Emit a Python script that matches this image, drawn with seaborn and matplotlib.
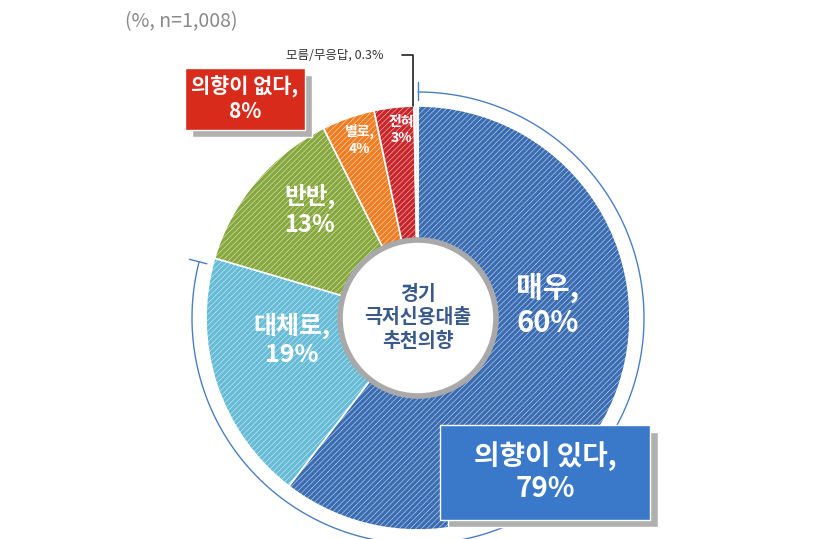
import numpy as np
import matplotlib.pyplot as plt
import seaborn as sns
from matplotlib.patches import Circle, Rectangle

sns.set_style("white")
plt.rcParams["font.family"] = ["Noto Sans CJK JP", "Noto Sans CJK KR", "Noto Sans CJK SC", "DejaVu Sans"]
plt.rcParams["hatch.linewidth"] = 0.3

labels = ["매우", "대체로", "반반", "별로", "전혀", "모름/무응답"]
values = [60, 19, 13, 4, 3, 0.3]
colors = ["#3b6db3", "#66bcd6", "#87a83d", "#ef7e22", "#c9262b", "#f0f0f0"]

W, H = 835, 539
def Y(y):
    return H - y

fig = plt.figure(figsize=(8.35, 5.39), dpi=100)
ax = fig.add_axes([0, 0, 1, 1])

cx, cy, R = 418, 318, 212
wedges, _ = ax.pie(values, colors=colors, startangle=90, counterclock=False,
                   center=(cx, Y(cy)), radius=R, frame=True,
                   wedgeprops=dict(edgecolor="white", linewidth=1.2))
for w in wedges[:5]:
    w.set_hatch("//////")
ax.set_xlim(0, W)
ax.set_ylim(0, H)
ax.set_aspect("equal")
ax.axis("off")

# centre circle
ax.add_patch(Circle((cx, Y(cy)), 78, facecolor="white", edgecolor="#a9a9a9", lw=4, zorder=5))
ax.text(cx, Y(cy), "경기\n극저신용대출\n추천의향", ha="center", va="center", fontsize=14,
        fontweight="bold", color="#3a5a8c", linespacing=1.3, zorder=6)

# outer arc for "있다" (79%)
r2 = 226
th = np.radians(np.linspace(90, 90 - 360 * 0.79, 200))
ax.plot(cx + r2 * np.cos(th), Y(cy) + r2 * np.sin(th), color="#4a7fc1", lw=1)
for t in [th[0], th[-1]]:
    ax.plot([cx + 218 * np.cos(t), cx + 236 * np.cos(t)],
            [Y(cy) + 218 * np.sin(t), Y(cy) + 236 * np.sin(t)], color="#4a7fc1", lw=1)

# slice labels
txt = dict(ha="center", va="center", color="white", fontweight="bold", zorder=4)
ax.text(548, Y(305), "매우,\n60%", fontsize=21, **txt)
ax.text(292, Y(340), "대체로,\n19%", fontsize=18, **txt)
ax.text(310, Y(210), "반반,\n13%", fontsize=17, **txt)
ax.text(360, Y(140), "별로,\n4%", fontsize=10, **txt)
ax.text(401, Y(130), "전혀\n3%", fontsize=10, **txt)

# boxes
ax.add_patch(Rectangle((192, Y(137)), 120, 62, facecolor="#b0b0b0", zorder=6))
ax.add_patch(Rectangle((185, Y(130)), 120, 62, facecolor="#d92b1c", zorder=7))
ax.text(245, Y(99), "의향이 없다,\n8%", fontsize=15, color="white", fontweight="bold",
        ha="center", va="center", zorder=8)
ax.add_patch(Rectangle((448, Y(527)), 210, 95, facecolor="#b0b0b0", zorder=6))
ax.add_patch(Rectangle((440, Y(520)), 210, 95, facecolor="#3a78c9", zorder=7))
ax.text(545, Y(472), "의향이 있다,\n79%", fontsize=20, color="white", fontweight="bold",
        ha="center", va="center", zorder=8)

# small annotation
ax.text(335, Y(55), "모름/무응답, 0.3%", fontsize=9, color="#333333", ha="center", va="center")
ax.plot([402, 413, 413], [Y(55), Y(55), Y(106)], color="#222222", lw=1.2)

ax.text(125, Y(22), "(%, n=1,008)", fontsize=14, color="#8a8a8a", ha="left", va="center")

fig.savefig("out.png", dpi=100)
